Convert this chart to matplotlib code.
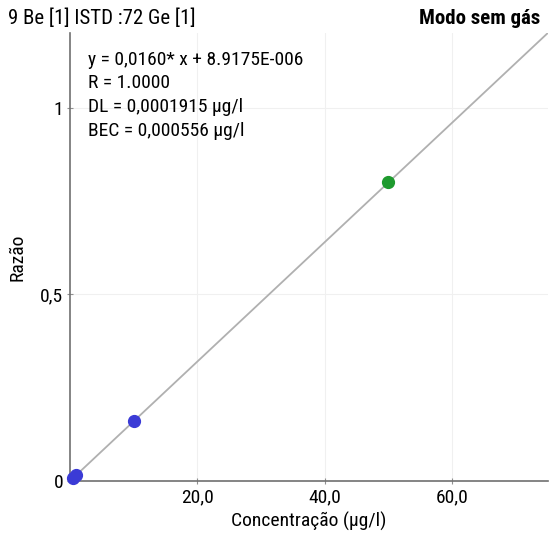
import matplotlib.pyplot as plt
import numpy as np

plt.rcParams["font.family"] = ["Roboto Condensed", "DejaVu Sans"]

conc_blue = [0.5, 1.0, 10.0]
ratio_blue = [0.008, 0.016, 0.160]
conc_green = [50.0]
ratio_green = [0.800]
slope = 0.0160
intercept = 8.9175e-06
x_ticks = [20, 40, 60]
x_tick_labels = ["20,0", "40,0", "60,0"]
y_ticks = [0, 0.5, 1]
y_tick_labels = ["0", "0,5", "1"]
info_lines = [
    "y = 0,0160* x + 8.9175E-006",
    "R = 1.0000",
    "DL = 0,0001915 µg/l",
    "BEC = 0,000556 µg/l",
]

fig = plt.figure(figsize=(5.49, 5.35), dpi=100)
ax = fig.add_axes([0.1275, 0.101, 0.87, 0.837])

xfit = np.array([0, 80])
ax.plot(xfit, slope * xfit + intercept, color="#b0b0b0", lw=1.3, zorder=2)
ax.plot(conc_blue, ratio_blue, "o", color="#3b3bd6", ms=8.5, zorder=3, clip_on=False)
ax.plot(conc_green, ratio_green, "o", color="#1e9a2e", ms=8.5, zorder=3)

ax.set_xlim(0, 75)
ax.set_ylim(0, 1.2)
ax.set_xticks(x_ticks, x_tick_labels)
ax.set_yticks(y_ticks, y_tick_labels)
ax.grid(color="#f0f0f0", lw=0.8)
for side in ["top", "right"]:
    ax.spines[side].set_visible(False)
for side in ["left", "bottom"]:
    ax.spines[side].set_color("#707070")
    ax.spines[side].set_linewidth(1.2)
ax.tick_params(labelsize=14, length=4, color="#909090", direction="inout", pad=3)
ax.set_xlabel("Concentração (µg/l)", fontsize=14, labelpad=4)
ax.set_ylabel("Razão", fontsize=14, labelpad=10)

for i, line in enumerate(info_lines):
    fig.text(88 / 549, 1 - (60 + 23.5 * i) / 535, line, fontsize=14, va="center")

fig.text(8 / 549, 1 - 18 / 535, "9 Be [1] ISTD :72 Ge [1]", fontsize=15, va="center")
fig.text(540 / 549, 1 - 18 / 535, "Modo sem gás", fontsize=15, va="center",
         ha="right", fontweight="bold")

fig.savefig("out.png", dpi=100)
